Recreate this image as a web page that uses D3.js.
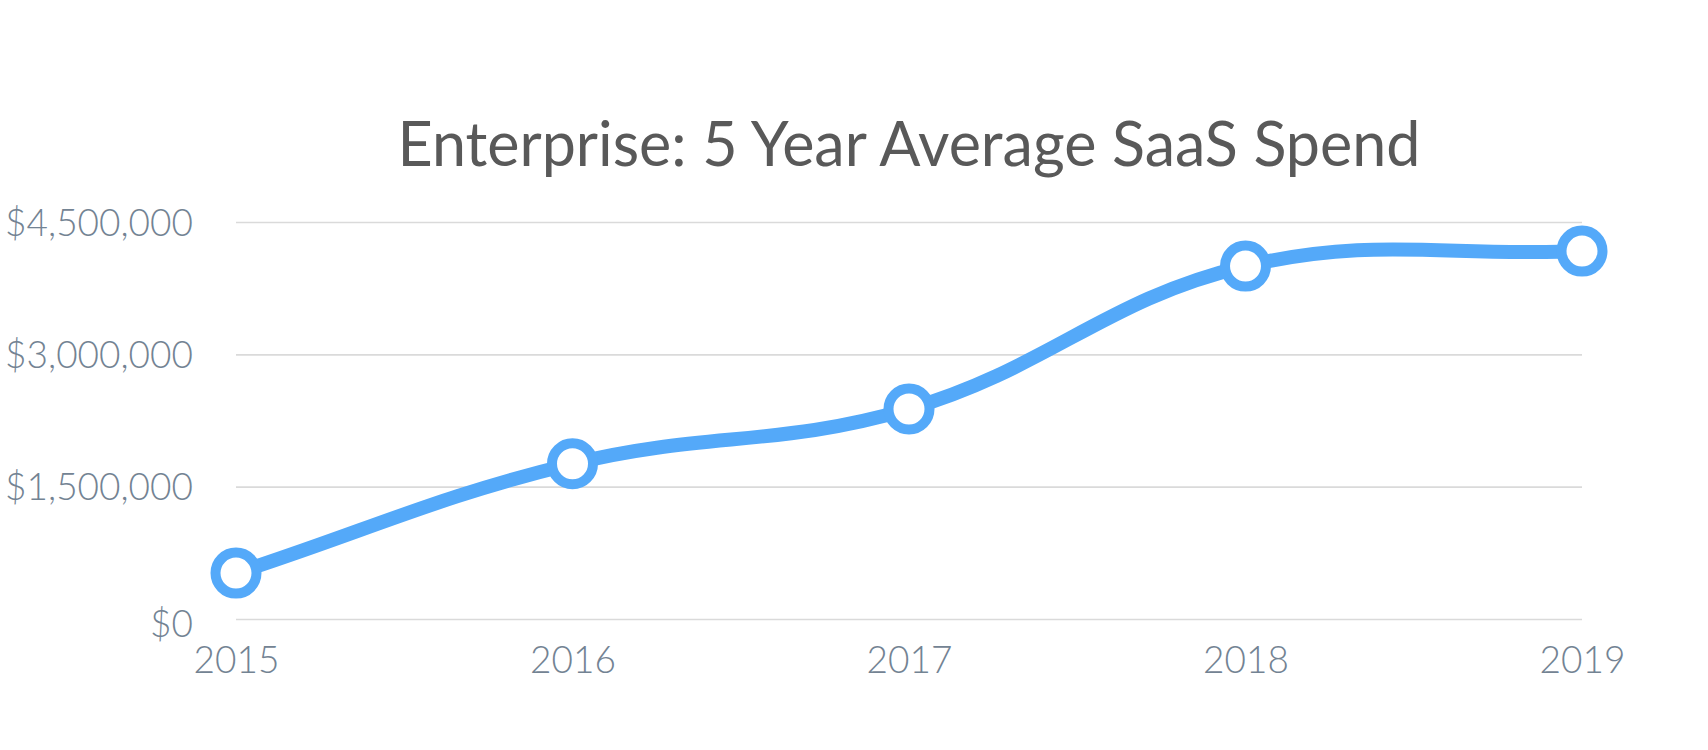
<!DOCTYPE html>
<html>
<head>
<meta charset="utf-8">
<script src="https://cdn.jsdelivr.net/npm/d3@7"></script>
<style>
  html, body { margin: 0; padding: 0; background: #fff; }
  #chart { width: 1708px; height: 750px; }
  text { font-family: Lato, "Open Sans", sans-serif; }
</style>
</head>
<body>
<div id="chart"></div>
<script>
  // chart values
  const years = ["2015", "2016", "2017", "2018", "2019"];
  const spend = [520000, 1760000, 2380000, 4000000, 4170000];
  const yTicks = [0, 1500000, 3000000, 4500000];
  const title = "Enterprise: 5 Year Average SaaS Spend";

  // spline like the old canvas charts (tension 0.4, distance weighted)
  function tensionCurve(context) {
    const t = 0.4;
    let pts = [];
    return {
      areaStart() {}, areaEnd() {},
      lineStart() { pts = []; },
      point(x, y) { pts.push([x, y]); },
      lineEnd() {
        const n = pts.length;
        if (!n) return;
        const cps = pts.map((p, i) => {
          const prev = pts[i - 1] || p, next = pts[i + 1] || p;
          const d01 = Math.hypot(p[0] - prev[0], p[1] - prev[1]);
          const d12 = Math.hypot(next[0] - p[0], next[1] - p[1]);
          let s01 = d01 / (d01 + d12), s12 = d12 / (d01 + d12);
          if (isNaN(s01)) s01 = 0;
          if (isNaN(s12)) s12 = 0;
          const fa = t * s01, fb = t * s12;
          return {
            prev: [p[0] - fa * (next[0] - prev[0]), p[1] - fa * (next[1] - prev[1])],
            next: [p[0] + fb * (next[0] - prev[0]), p[1] + fb * (next[1] - prev[1])]
          };
        });
        context.moveTo(pts[0][0], pts[0][1]);
        for (let i = 1; i < n; i++) {
          context.bezierCurveTo(cps[i - 1].next[0], cps[i - 1].next[1],
            cps[i].prev[0], cps[i].prev[1], pts[i][0], pts[i][1]);
        }
      }
    };
  }

  function drawChart() {
    const width = 1708, height = 750;
    const margin = { top: 222, right: 126, bottom: 131, left: 236 };
    const innerW = width - margin.left - margin.right;
    const innerH = height - margin.top - margin.bottom;

    const svg = d3.select("#chart")
      .append("svg")
      .attr("width", width)
      .attr("height", height);

    const g = svg.append("g")
      .attr("transform", `translate(${margin.left},${margin.top})`);

    const x = d3.scalePoint()
      .domain(years)
      .range([0, innerW]);

    const y = d3.scaleLinear()
      .domain([0, 4500000])
      .range([innerH, 0]);

    const money = v => "$" + d3.format(",")(v);

    // title, centred over the plot area
    svg.append("text")
      .attr("x", margin.left + innerW / 2)
      .attr("y", 166)
      .attr("text-anchor", "middle")
      .attr("font-size", "61px")
      .attr("fill", "#595959")
      .text(title);

    // horizontal grid + y labels
    const yAxis = g.append("g")
      .call(d3.axisLeft(y)
        .tickValues(yTicks)
        .tickSize(-innerW)
        .tickPadding(43)
        .tickFormat(money));
    yAxis.select(".domain").remove();
    yAxis.selectAll(".tick line")
      .attr("stroke", "#dadada")
      .attr("stroke-width", 1.6);
    yAxis.selectAll(".tick text")
      .attr("fill", "#738393")
      .attr("font-size", "37px")
      .attr("font-weight", 300)
      .attr("font-family", "Lato, sans-serif")
      .attr("dy", d => d === 0 ? "0.48em" : "0.36em");

    // x labels
    const xAxis = g.append("g")
      .attr("transform", `translate(0,${innerH})`)
      .call(d3.axisBottom(x).tickSize(0).tickPadding(54));
    xAxis.select(".domain").remove();
    xAxis.selectAll(".tick text")
      .attr("fill", "#738393")
      .attr("font-size", "37px")
      .attr("font-weight", 300)
      .attr("font-family", "Lato, sans-serif")
      .attr("dy", "0");

    const points = years.map((yr, i) => ({ year: yr, value: spend[i] }));

    const line = d3.line()
      .x(d => x(d.year))
      .y(d => y(d.value))
      .curve(tensionCurve);

    g.append("path")
      .datum(points)
      .attr("fill", "none")
      .attr("stroke", "#54a9f9")
      .attr("stroke-width", 14)
      .attr("stroke-linejoin", "round")
      .attr("d", line);

    g.selectAll("circle")
      .data(points)
      .join("circle")
        .attr("cx", d => x(d.year))
        .attr("cy", d => y(d.value))
        .attr("r", 20.5)
        .attr("fill", "#fff")
        .attr("stroke", "#54a9f9")
        .attr("stroke-width", 10);
  }

  drawChart();
</script>
</body>
</html>
